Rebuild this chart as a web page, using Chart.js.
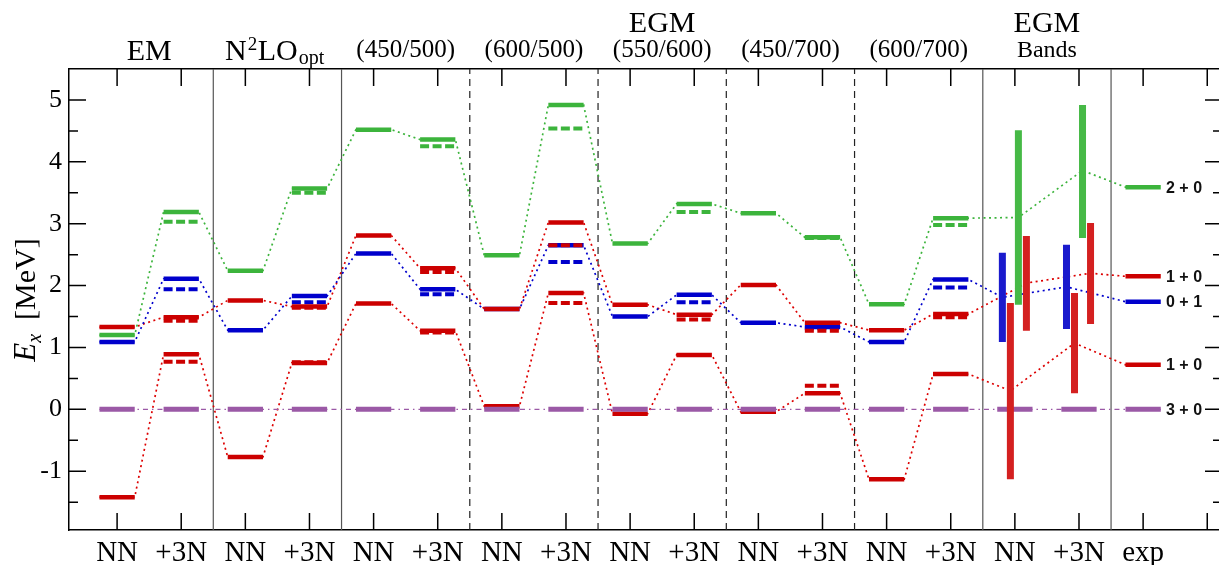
<!DOCTYPE html>
<html lang="en">
<head>
<meta charset="UTF-8">
<title>Ex levels</title>
<script src="https://cdn.jsdelivr.net/npm/chart.js@4"></script>
<style>
  html, body { margin: 0; padding: 0; background: #fff; overflow: hidden; }
  canvas { display: block; }
</style>
</head>
<body>
<canvas id="chart" width="1224" height="565"></canvas>
<script>
// columns: 0..13 = NN/+3N for the 7 interactions, 14,15 = EGM bands, 16 = exp
var xLabels = ['NN','+3N','NN','+3N','NN','+3N','NN','+3N','NN','+3N','NN','+3N','NN','+3N','NN','+3N','exp']
var groupNames = ['EM','N2LO','(450/500)','(600/500)','(550/600)','(450/700)','(600/700)','Bands']
var separators = [1.5, 3.5, 5.5, 7.5, 9.5, 11.5, 13.5, 15.5]
var sepDashed  = [false, false, true, true, true, true, false, false]

// solid levels (cols 14,15 = where the dotted line crosses the band)
var green  = [1.20, 3.19, 2.24, 3.57, 4.52, 4.36, 2.49, 4.92, 2.68, 3.32, 3.17, 2.78, 1.70, 3.09, 3.10, 3.86, 3.59]
var redHi  = [1.33, 1.49, 1.76, 1.66, 2.81, 2.28, 1.62, 3.02, 1.69, 1.53, 2.01, 1.40, 1.28, 1.54, 2.04, 2.20, 2.15]
var blue   = [1.09, 2.11, 1.28, 1.83, 2.52, 1.94, 1.62, 2.65, 1.50, 1.85, 1.40, 1.33, 1.09, 2.10, 1.81, 1.98, 1.74]
var redLo  = [-1.42, 0.89, -0.77, 0.75, 1.71, 1.27, 0.05, 1.88, -0.07, 0.88, -0.04, 0.26, -1.13, 0.57, 0.30, 1.07, 0.72]
var purple = [0, 0, 0, 0, 0, 0, 0, 0, 0, 0, 0, 0, 0, 0, 0, 0, 0]

// dashed levels (+3N columns only)
var greenDash = [null, 3.03, null, 3.50, null, 4.25, null, 4.54, null, 3.19, null, 2.77, null, 2.98]
var redHiDash = [null, 1.43, null, 1.64, null, 2.22, null, 2.65, null, 1.45, null, 1.27, null, 1.49]
var blueDash  = [null, 1.94, null, 1.73, null, 1.86, null, 2.38, null, 1.73, null, 1.31, null, 1.97]
var redLoDash = [null, 0.77, null, 0.76, null, 1.24, null, 1.72, null, 0.88, null, 0.38, null, 0.57]

// EGM bands [low, high] for NN and +3N
var greenBand = [[1.69, 4.51], [2.77, 4.92]]
var redHiBand = [[1.27, 2.80], [1.38, 3.01]]
var blueBand  = [[1.09, 2.53], [1.30, 2.66]]
var redLoBand = [[-1.13, 1.72], [0.26, 1.88]]

var expLabels = ['2 + 0', '1 + 0', '0 + 1', '1 + 0', '3 + 0']

var HW = 0.275   // half width of a level bar
var BAND_COLS = [14, 15]

var states = [
    {vals: green,  dash: greenDash, band: greenBand, off: 0.055,  line: '#3cb43c', bar: '#3cb43c', bandCol: '#46b946', o: 18},
    {vals: blue,   dash: blueDash,  band: blueBand,  off: -0.195, line: '#0000cc', bar: '#0000cc', bandCol: '#1a1acd', o: 20},
    {vals: redHi,  dash: redHiDash, band: redHiBand, off: 0.18,   line: '#dd0000', bar: '#cc0000', bandCol: '#d42020', o: 16},
    {vals: redLo,  dash: redLoDash, band: redLoBand, off: -0.07,  line: '#dd0000', bar: '#cc0000', bandCol: '#d42020', o: 15},
]

var datasets = []
var base = {showLine: true, pointRadius: 0, fill: false, spanGaps: false, borderCapStyle: 'butt'}

// group separators
separators.forEach(function(s, i){
    datasets.push(Object.assign({}, base, {
        data: [{x: s, y: -1.95}, {x: s, y: 5.5}],
        borderColor: sepDashed[i] ? '#222' : '#555', borderWidth: 1.2,
        borderDash: sepDashed[i] ? [7, 5] : [], order: 100
    }))
})

function levelPoints(vals, cols){
    var pts = []
    cols.forEach(function(c){
        if (vals[c] === null || vals[c] === undefined) return
        pts.push({x: c - HW, y: vals[c]}, {x: c + HW, y: vals[c]}, {x: c + 0.5, y: null})
    })
    return pts
}

var normalCols = [0,1,2,3,4,5,6,7,8,9,10,11,12,13,16]

states.forEach(function(st){
    // dotted connecting line
    var pts = []
    for (var c = 0; c < st.vals.length; c++){
        if (BAND_COLS.indexOf(c) >= 0) pts.push({x: c + st.off, y: st.vals[c]})
        else pts.push({x: c - HW, y: st.vals[c]}, {x: c + HW, y: st.vals[c]})
    }
    datasets.push(Object.assign({}, base, {data: pts, borderColor: st.line, borderWidth: 1.7, borderDash: [2, 3.5], order: 50}))
    // solid bars
    datasets.push(Object.assign({}, base, {data: levelPoints(st.vals, normalCols), borderColor: st.bar, borderWidth: 4.5, order: st.o}))
    // dashed bars
    datasets.push(Object.assign({}, base, {data: levelPoints(st.dash, [1,3,5,7,9,11,13]), borderColor: st.bar, borderWidth: 4, borderDash: [9, 3.5], order: st.o - 0.5}))
    // bands
    var bpts = []
    st.band.forEach(function(b, i){
        var c = BAND_COLS[i] + st.off
        bpts.push({x: c, y: b[0]}, {x: c, y: b[1]}, {x: c + 0.01, y: null})
    })
    datasets.push(Object.assign({}, base, {data: bpts, borderColor: st.bandCol, borderWidth: 7, order: 0}))
})

// purple 3+0
var ppts = []
purple.forEach(function(v, c){ ppts.push({x: c - HW, y: v}, {x: c + HW, y: v}) })
datasets.push(Object.assign({}, base, {data: ppts, borderColor: '#9b59a6', borderWidth: 1.4, borderDash: [5, 4, 1.5, 4], order: 49}))
datasets.push(Object.assign({}, base, {data: levelPoints(purple, [0,1,2,3,4,5,6,7,8,9,10,11,12,13,14,15,16]), borderColor: '#9b59a6', borderWidth: 5, order: 5}))

var expVals = [green[16], redHi[16], blue[16], redLo[16], purple[16]]

var decor = {
    id: 'decor',
    afterDraw: function(chart){
        var ctx = chart.ctx, a = chart.chartArea
        var xs = chart.scales.x, ys = chart.scales.y
        ctx.save()
        ctx.strokeStyle = '#000'
        ctx.lineWidth = 1.5
        // inward ticks
        for (var k = 0; k <= 17; k++){
            var px = xs.getPixelForValue(k)
            ctx.beginPath()
            ctx.moveTo(px, a.bottom); ctx.lineTo(px, a.bottom - 17)
            ctx.moveTo(px, a.top); ctx.lineTo(px, a.top + 17)
            ctx.stroke()
        }
        for (var v = -1.5; v <= 5.01; v += 0.5){
            var py = ys.getPixelForValue(v)
            var len = (Math.abs(v % 1) < 0.01) ? 17 : 9
            ctx.beginPath()
            ctx.moveTo(a.left, py); ctx.lineTo(a.left + len, py)
            ctx.moveTo(a.right, py); ctx.lineTo(a.right - len, py)
            ctx.stroke()
        }

        // group headers
        ctx.fillStyle = '#000'
        ctx.textBaseline = 'alphabetic'
        ctx.textAlign = 'center'
        var serif = '"Liberation Serif", "Times New Roman", serif'
        ctx.font = '30px ' + serif
        ctx.fillText('EM', xs.getPixelForValue(0.5), 60)
        ctx.fillText('EGM', xs.getPixelForValue(8.5), 32)
        ctx.fillText('EGM', xs.getPixelForValue(14.5), 32)
        ctx.font = '25px ' + serif
        for (var g = 2; g <= 6; g++){
            ctx.fillText(groupNames[g], xs.getPixelForValue(g * 2 + 0.5), 57)
        }
        ctx.font = '24px ' + serif
        ctx.fillText(groupNames[7], xs.getPixelForValue(14.5), 57)

        // N^2 LO_opt
        ctx.textAlign = 'left'
        var x0 = 225
        ctx.font = '30px ' + serif
        ctx.fillText('N', x0, 60); x0 += ctx.measureText('N').width
        ctx.font = '19px ' + serif
        ctx.fillText('2', x0 + 1, 50); x0 += ctx.measureText('2').width + 1.5
        ctx.font = '30px ' + serif
        ctx.fillText('LO', x0, 60); x0 += ctx.measureText('LO').width + 1
        ctx.font = '20px ' + serif
        ctx.fillText('opt', x0, 64)

        // y title
        ctx.save()
        ctx.translate(35, 300)
        ctx.rotate(-Math.PI / 2)
        ctx.font = 'italic 31px ' + serif
        var wE = ctx.measureText('E').width
        ctx.font = 'italic 20px ' + serif
        var wx = ctx.measureText('x').width
        ctx.font = '30px ' + serif
        var wU = ctx.measureText('[MeV]').width
        var gap = 14
        var total = wE + wx + gap + wU
        var sx = -total / 2
        ctx.font = 'italic 31px ' + serif
        ctx.fillText('E', sx, 0)
        ctx.font = 'italic 20px ' + serif
        ctx.fillText('x', sx + wE, 6)
        ctx.font = '30px ' + serif
        ctx.fillText('[MeV]', sx + wE + wx + gap, 0)
        ctx.restore()

        // exp labels
        ctx.font = 'bold 16px "Liberation Sans", Arial, sans-serif'
        ctx.textBaseline = 'middle'
        ctx.fillStyle = '#111'
        expLabels.forEach(function(t, i){
            ctx.fillText(t, 1166, ys.getPixelForValue(expVals[i]) + 1)
        })
        ctx.restore()
    }
}

var xTicks = []
for (var i = 0; i <= 17; i++) xTicks.push(i)

window.addEventListener('load', function(){
    new Chart(document.getElementById('chart'), {
        type: 'scatter',
        data: {datasets: datasets},
        options: {
            responsive: false,
            animation: false,
            layout: {padding: 0},
            plugins: {legend: {display: false}, tooltip: {enabled: false}},
            scales: {
                x: {
                    type: 'linear', position: 'bottom', min: -0.75, max: 17.23,
                    afterBuildTicks: function(s){ s.ticks = xTicks.map(function(v){ return {value: v} }) },
                    afterFit: function(s){ s.height = 35 },
                    grid: {drawOnChartArea: false, drawTicks: false},
                    border: {color: '#000', width: 1.5},
                    ticks: {
                        autoSkip: false, maxRotation: 0, padding: 6, color: '#000',
                        font: {family: '"Liberation Serif"', size: 29},
                        callback: function(v){ return xLabels[v] || '' }
                    }
                },
                x2: {
                    type: 'linear', position: 'top', min: -0.75, max: 17.23,
                    afterFit: function(s){ s.height = 69 },
                    grid: {drawOnChartArea: false, drawTicks: false},
                    border: {color: '#000', width: 1.5},
                    ticks: {display: false}
                },
                y: {
                    type: 'linear', position: 'left', min: -1.95, max: 5.5,
                    afterBuildTicks: function(s){ s.ticks = [-1,0,1,2,3,4,5].map(function(v){ return {value: v} }) },
                    afterFit: function(s){ s.width = 69 },
                    grid: {drawOnChartArea: false, drawTicks: false},
                    border: {color: '#000', width: 1.5},
                    ticks: {padding: 7, color: '#000', font: {family: '"Liberation Serif"', size: 26}}
                },
                y2: {
                    type: 'linear', position: 'right', min: -1.95, max: 5.5,
                    afterFit: function(s){ s.width = 2 },
                    grid: {drawOnChartArea: false, drawTicks: false},
                    border: {color: '#000', width: 1.5},
                    ticks: {display: false}
                }
            }
        },
        plugins: [decor]
    })
})
</script>
</body>
</html>
